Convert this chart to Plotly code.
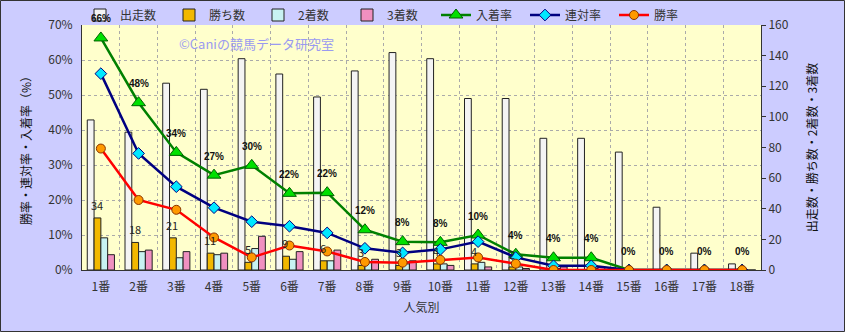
import plotly.graph_objects as go

categories = [f"{i}番" for i in range(1, 19)]
starts = [98, 90, 122, 118, 138, 128, 113, 130, 142, 138, 112, 112, 86, 86, 77, 41, 11, 4]
wins = [34, 18, 21, 11, 5, 9, 6, 3, 3, 4, 4, 2, 0, 0, 0, 0, 0, 0]
seconds = [21, 12, 8, 10, 14, 7, 6, 5, 4, 4, 5, 2, 1, 1, 0, 0, 0, 0]
thirds = [10, 13, 12, 11, 22, 12, 13, 7, 6, 3, 2, 1, 2, 2, 0, 0, 0, 0]
place_rate = [66.3, 47.8, 33.6, 27.1, 29.9, 21.9, 22.1, 11.5, 8.1, 7.9, 10.0, 4.5, 3.5, 3.5, 0, 0, 0, 0]
quinella_rate = [56.1, 33.3, 23.8, 17.8, 13.8, 12.5, 10.6, 6.2, 4.9, 5.9, 8.1, 3.6, 1.2, 1.2, 0, 0, 0, 0]
win_rate = [34.7, 20.0, 17.2, 9.3, 3.6, 7.0, 5.3, 2.3, 2.1, 2.9, 3.6, 1.8, 0, 0, 0, 0, 0, 0]

FONT = "Noto Sans CJK JP"
W, H = 845, 332
ML, MR, MT, MB = 82, 84, 25, 62
PW, PH = W - ML - MR, H - MT - MB

fig = go.Figure()
bar_line = dict(color="#222222", width=1)
fig.add_trace(go.Bar(name="出走数", x=categories, y=starts, marker=dict(color="#f4f4f4", line=bar_line), yaxis="y"))
fig.add_trace(go.Bar(name="勝ち数", x=categories, y=wins, marker=dict(color="#f2b800", line=bar_line), yaxis="y"))
fig.add_trace(go.Bar(name="2着数", x=categories, y=seconds, marker=dict(color="#c8f2f2", line=bar_line), yaxis="y"))
fig.add_trace(go.Bar(name="3着数", x=categories, y=thirds, marker=dict(color="#f090c0", line=bar_line), yaxis="y"))

fig.add_trace(go.Scatter(name="入着率", x=categories, y=place_rate, yaxis="y2", mode="lines+markers",
                         line=dict(color="#008000", width=2.5),
                         marker=dict(symbol="triangle-up", size=12, color="#00e000", line=dict(color="#006000", width=1))))
fig.add_trace(go.Scatter(name="連対率", x=categories, y=quinella_rate, yaxis="y2", mode="lines+markers",
                         line=dict(color="#000080", width=2.5),
                         marker=dict(symbol="diamond", size=9, color="#00e8ff", line=dict(color="#000080", width=1))))
fig.add_trace(go.Scatter(name="勝率", x=categories, y=win_rate, yaxis="y2", mode="lines+markers",
                         line=dict(color="#ff0000", width=2.5),
                         marker=dict(symbol="circle", size=9, color="#ff9900", line=dict(color="#883300", width=1))))

annotations = []
for c, r in zip(categories, place_rate):
    annotations.append(dict(x=c, y=r, xref="x", yref="y2", text=f"<b>{round(r)}%</b>", showarrow=False,
                            yshift=19, font=dict(family="Liberation Sans", size=10, color="#111111")))
for c, w in zip(categories, wins):
    if w > 0:
        annotations.append(dict(x=c, y=w, xref="x", yref="y", text=str(w), showarrow=False,
                                xshift=-4, yshift=13, font=dict(family=FONT, size=11, color="#222222")))
annotations.append(dict(x=(177 - ML) / PW, y=1 - (43 - MT) / PH, xref="paper", yref="paper",
                        xanchor="left", yanchor="middle", showarrow=False,
                        text="©Caniの競馬データ研究室", font=dict(family=FONT, size=13, color="#9a9af0")))

fig.update_layout(
    width=W, height=H,
    margin=dict(l=ML, r=MR, t=MT, b=MB, autoexpand=False),
    paper_bgcolor="#ccccff", plot_bgcolor="#ffffcc",
    font=dict(family=FONT, size=12, color="#333333"),
    barmode="group", bargap=0.28, bargroupgap=0,
    showlegend=True,
    legend=dict(orientation="h", xref="container", yref="container",
                x=80 / W, y=1 - 15 / H, xanchor="left", yanchor="middle",
                bgcolor="rgba(0,0,0,0)", font=dict(size=12, color="#333333"),
                entrywidth=44, traceorder="normal", itemwidth=30),
    xaxis=dict(type="category", range=[-0.5, len(categories) - 0.5], tickson="boundaries",
               showgrid=True, gridcolor="#aaaaaa", griddash="dot",
               gridwidth=1, showline=True, linecolor="#333333", linewidth=1, ticks="",
               ticklabelstandoff=6,
               tickfont=dict(size=12, color="#333333"),
               title=dict(text="人気別", font=dict(size=12, color="#333333"), standoff=10)),
    yaxis=dict(side="right", range=[0, 160], dtick=20, showgrid=False, zeroline=False,
               showline=True, linecolor="#333333", linewidth=1, ticks="outside", ticklen=4,
               tickcolor="#333333", tickfont=dict(size=12, color="#333333"),
               title=dict(text="出走数・勝ち数・2着数・3着数", font=dict(size=12, color="#111111"), standoff=20)),
    yaxis2=dict(side="left", overlaying="y", range=[0, 70], dtick=10, ticksuffix="%",
                showgrid=True, gridcolor="#aaaaaa", griddash="dot", gridwidth=1, zeroline=False,
                showline=True, linecolor="#333333", linewidth=1, ticks="", ticklabelstandoff=6,
                tickfont=dict(size=12, color="#333333"),
                title=dict(text="勝率・連対率・入着率（%）", font=dict(size=12, color="#111111"), standoff=14)),
    annotations=annotations,
    shapes=[dict(type="rect", xref="paper", yref="paper",
                 x0=(0.5 - ML) / PW, x1=(W - 0.5 - ML) / PW,
                 y0=-(H - 0.5 - MT - PH) / PH, y1=(PH + MT - 0.5) / PH,
                 line=dict(color="#333333", width=1), layer="above")],
)

fig.write_html("out.html")
